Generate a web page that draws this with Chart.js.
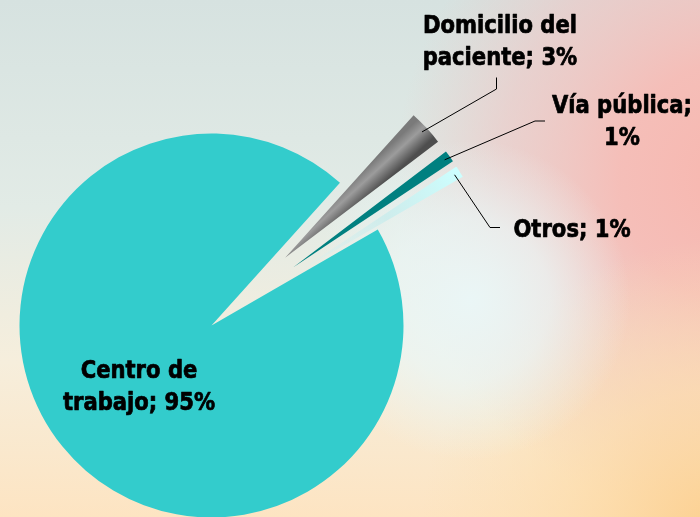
<!DOCTYPE html>
<html><head><meta charset="utf-8">
<style>html,body{margin:0;padding:0;overflow:hidden;background:#e6eeea}#wrap{width:700px;height:517px;position:relative}canvas{display:block}</style>
</head><body><div id="wrap"><canvas id="c" width="700" height="517"></canvas></div>
<script src="https://cdn.jsdelivr.net/npm/chart.js@4/dist/chart.umd.min.js"></script>
<script>
// ---- data ----
const categories = ['Domicilio del paciente', 'Vía pública', 'Otros', 'Centro de trabajo'];
const values = [3, 1, 1, 95];
const labelLines = [['Domicilio del', 'paciente; 3%'], ['Vía pública;', '1%'], ['Otros; 1%'], ['Centro de', 'trabajo; 95%']];

// ---- style / layout (not data) ----
const sliceColors = ['#6e6e6e', '#008080', '#ccffff', '#33cccc'];
const explode = [100, 100, 100, 0];
const ROTATION = 42;
const RADIUS = 192;
const FONT = "bold 25px 'DejaVu Sans Condensed', 'DejaVu Sans', sans-serif";
const LINE_H = 32;
const labelPlace = [
  {x: 500, y: 33, leader: [[496.5, 89], [496.5, 77.5]]},
  {x: 622, y: 113, leader: [[535, 121], [545, 121]]},
  {x: 572, y: 237, leader: [[490, 227.5], [500, 227.5]]},
  {x: 139, y: 378, leader: null}
];

function sliceGeom(chart, i) {
  const a = chart.chartArea;
  const cx = (a.left + a.right) / 2, cy = (a.top + a.bottom) / 2;
  const total = values.reduce((s, v) => s + v, 0);
  let start = (ROTATION - 90) * Math.PI / 180;
  for (let k = 0; k < i; k++) start += values[k] / total * 2 * Math.PI;
  const end = start + values[i] / total * 2 * Math.PI;
  return {cx, cy, start, end, mid: (start + end) / 2};
}

function fillFor(c) {
  const i = c.dataIndex;
  const chart = c.chart;
  if (!chart.chartArea) return sliceColors[i];
  const ctx = chart.ctx;
  const g = sliceGeom(chart, i);
  if (i === 0) {
    const half = (g.end - g.start) / 2;
    const rr = RADIUS * 0.6;
    const mx = g.cx + Math.cos(g.mid) * rr, my = g.cy + Math.sin(g.mid) * rr;
    const w = rr * Math.tan(half) * 1.1;
    const px = -Math.sin(g.mid), py = Math.cos(g.mid);
    const grad = ctx.createLinearGradient(mx - px * w, my - py * w, mx + px * w, my + py * w);
    grad.addColorStop(0, '#7a7a7a');
    grad.addColorStop(0.4, '#9c9c9c');
    grad.addColorStop(1, '#4e4e4e');
    return grad;
  }
  if (i === 2) {
    const grad = ctx.createRadialGradient(g.cx, g.cy, 0, g.cx, g.cy, RADIUS);
    grad.addColorStop(0, 'rgba(220,240,240,0.2)');
    grad.addColorStop(0.55, 'rgba(200,236,236,0.8)');
    grad.addColorStop(1, '#ccffff');
    return grad;
  }
  return sliceColors[i];
}

const backgroundPlugin = {
  id: 'bg',
  beforeDraw(chart) {
    const ctx = chart.ctx, W = chart.width, H = chart.height;
    ctx.save();
    let g = ctx.createLinearGradient(0, 0, 0, H);
    g.addColorStop(0, '#d6e2e0');
    g.addColorStop(0.4, '#e2ebe6');
    g.addColorStop(0.7, '#f6eedc');
    g.addColorStop(1, '#fde4c2');
    ctx.fillStyle = g; ctx.fillRect(0, 0, W, H);
    g = ctx.createRadialGradient(740, 180, 0, 740, 180, 345);
    g.addColorStop(0, 'rgba(248,182,174,1)');
    g.addColorStop(0.35, 'rgba(246,188,182,0.95)');
    g.addColorStop(0.7, 'rgba(240,196,194,0.6)');
    g.addColorStop(1, 'rgba(236,200,198,0)');
    ctx.fillStyle = g; ctx.fillRect(0, 0, W, H);
    g = ctx.createRadialGradient(720, 540, 0, 720, 540, 300);
    g.addColorStop(0, 'rgba(252,206,140,1)');
    g.addColorStop(0.5, 'rgba(253,220,170,0.7)');
    g.addColorStop(1, 'rgba(253,225,180,0)');
    ctx.fillStyle = g; ctx.fillRect(0, 0, W, H);
    g = ctx.createRadialGradient(470, 300, 0, 470, 300, 160);
    g.addColorStop(0, 'rgba(234,246,246,1)');
    g.addColorStop(0.5, 'rgba(234,246,246,0.7)');
    g.addColorStop(1, 'rgba(234,246,246,0)');
    ctx.fillStyle = g; ctx.fillRect(0, 0, W, H);
    ctx.restore();
  }
};

const explodePlugin = {
  id: 'explode',
  beforeDatasetDraw(chart, args) {
    const ctx = chart.ctx;
    args.meta.data.forEach((arc, i) => {
      const mid = (arc.startAngle + arc.endAngle) / 2;
      ctx.save();
      ctx.translate(Math.cos(mid) * explode[i], Math.sin(mid) * explode[i]);
      arc.draw(ctx, chart.chartArea);
      ctx.restore();
    });
    return false;
  }
};

const labelPlugin = {
  id: 'labels',
  afterDatasetsDraw(chart) {
    const ctx = chart.ctx;
    const meta = chart.getDatasetMeta(0);
    ctx.save();
    ctx.font = FONT;
    const target = 154;
    const scaleX = target / ctx.measureText(labelLines[0][0]).width;
    meta.data.forEach((arc, i) => {
      const p = labelPlace[i];
      const mid = (arc.startAngle + arc.endAngle) / 2;
      if (p.leader) {
        const ox = arc.x + Math.cos(mid) * (explode[i] + arc.outerRadius - 6);
        const oy = arc.y + Math.sin(mid) * (explode[i] + arc.outerRadius - 6);
        ctx.beginPath();
        ctx.strokeStyle = '#000';
        ctx.lineWidth = 1;
        ctx.moveTo(ox, oy);
        p.leader.forEach(pt => ctx.lineTo(pt[0], pt[1]));
        ctx.stroke();
      }
      ctx.fillStyle = '#000';
      ctx.strokeStyle = '#000';
      ctx.lineWidth = 0.7;
      ctx.lineJoin = 'round';
      ctx.textAlign = 'center';
      ctx.textBaseline = 'alphabetic';
      labelLines[i].forEach((t, k) => {
        ctx.save();
        ctx.translate(p.x, p.y + k * LINE_H);
        ctx.scale(scaleX, 1);
        ctx.fillText(t, 0, 0);
        ctx.strokeText(t, 0, 0);
        ctx.restore();
      });
    });
    ctx.restore();
  }
};

new Chart(document.getElementById('c'), {
  type: 'pie',
  data: {
    labels: categories,
    datasets: [{
      data: values,
      backgroundColor: fillFor,
      borderWidth: 0,
      radius: RADIUS
    }]
  },
  options: {
    responsive: false,
    animation: false,
    rotation: ROTATION,
    layout: {padding: {left: 0, right: 277, top: 134, bottom: 0}},
    plugins: {legend: {display: false}, tooltip: {enabled: false}}
  },
  plugins: [backgroundPlugin, explodePlugin, labelPlugin]
});
</script>
</body></html>
